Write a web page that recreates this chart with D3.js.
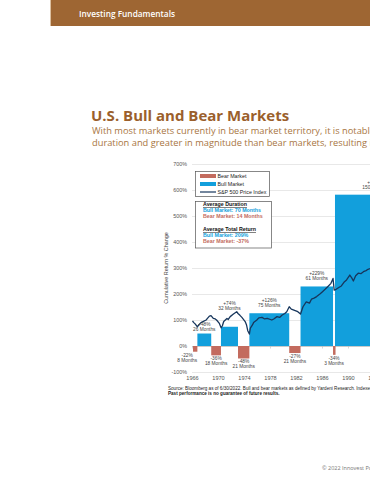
<!DOCTYPE html>
<html lang="en">
<head>
<meta charset="UTF-8">
<title>U.S. Bull and Bear Markets</title>
<script src="https://cdn.jsdelivr.net/npm/d3@7"></script>
<style>
  body { margin: 0; background: #fff; overflow: hidden; }
  svg { display: block; }
  .doc { font-family: "Open Sans", sans-serif; }
  .chart text { font-family: "Liberation Sans", Arial, sans-serif; }
</style>
</head>
<body>
<svg id="page" width="370" height="480"></svg>
<script>
// bull markets
const bullStart = [1966.75, 1970.38, 1974.75, 1982.62, 1987.92]
const bullEnd = [1968.88, 1973.0, 1980.88, 1987.62, 2000.2]
const bullReturn = [48, 74, 126, 229, 582]
const bullMonths = [26, 32, 75, 61, 150]

// bear markets
const bearStart = [1966.08, 1968.88, 1973.0, 1980.88, 1987.62]
const bearEnd = [1966.75, 1970.38, 1974.75, 1982.62, 1987.92]
const bearReturn = [-22, -36, -48, -27, -34]
const bearMonths = [8, 18, 21, 21, 3]

// S&P 500 line
const spxYear = [1966.0, 1966.2, 1966.4, 1966.75, 1967.0, 1967.3, 1967.6, 1968.1, 1968.3, 1968.6, 1968.85,
  1969.2, 1969.5, 1969.7, 1970.1, 1970.4, 1970.6, 1970.8, 1971.3, 1971.5, 1971.8, 1972.3, 1972.8, 1973.0,
  1973.3, 1973.6, 1974.1, 1974.3, 1974.5, 1974.75, 1974.9, 1975.2, 1975.4, 1975.9, 1976.2, 1976.7, 1977.1,
  1977.5, 1978.2, 1978.5, 1979.0, 1979.4, 1979.8, 1980.2, 1980.5, 1980.88, 1981.2, 1981.6, 1982.2, 1982.62,
  1983.0, 1983.5, 1984.0, 1984.3, 1984.7, 1985.1, 1985.6, 1986.0, 1986.4, 1986.8, 1987.3, 1987.62, 1987.8,
  1988.1, 1988.5, 1988.9, 1989.3, 1989.7, 1990.2, 1990.5, 1990.75, 1991.1, 1991.5, 1991.9, 1992.3, 1992.7,
  1993.0, 1993.5, 1994.0]
const spxValue = [96, 90, 85, 74, 82, 90, 94, 100, 106, 115, 117,
  106, 104, 100, 88, 70, 78, 94, 106, 102, 113, 123, 132, 125,
  118, 110, 94, 82, 59, 46, 69, 80, 90, 100, 108, 110, 104,
  106, 100, 104, 113, 110, 119, 125, 132, 151, 142, 138, 132, 123,
  151, 170, 165, 180, 184, 190, 200, 209, 218, 228, 241, 260, 215,
  218, 225, 231, 245, 254, 273, 262, 250, 270, 280, 278, 286, 290,
  295, 299, 302]

const yTicks = [-100, 0, 100, 200, 300, 400, 500, 600, 700]
const xTicks = [1966, 1970, 1974, 1978, 1982, 1986, 1990, 1994]

const blue = '#129fdc'
const red = '#c36b5e'
const navy = '#17365c'
const brown = '#9e6633'

svg = d3.select('#page')

// header band
svg.append('rect').attr('x', 50).attr('y', 0).attr('width', 320).attr('height', 26).attr('fill', brown)
svg.append('line').attr('x1', 50.5).attr('x2', 50.5).attr('y1', 0).attr('y2', 26)
  .attr('stroke', '#dcc0a0').attr('stroke-width', 1)
svg.append('text').attr('class', 'doc').attr('x', 79).attr('y', 17)
  .attr('fill', '#fff').attr('font-size', 8.3).attr('font-weight', 600)
  .text('Investing Fundamentals')

// title
svg.append('text').attr('class', 'doc').attr('x', 91).attr('y', 120.5)
  .attr('fill', '#9b5f2c').attr('font-size', 15).attr('font-weight', 700)
  .text('U.S. Bull and Bear Markets')

const sub = ['With most markets currently in bear market territory, it is notable that bull markets have been longer in',
  'duration and greater in magnitude than bear markets, resulting in positive long-term returns.']
sub.forEach((s, i) => {
  svg.append('text').attr('class', 'doc').attr('x', 92).attr('y', 133.5 + i * 12)
    .attr('fill', '#a87542').attr('font-size', 9.3)
    .text(s)
})

// chart
const x = d3.scaleLinear().domain([1966, 1994]).range([192.5, 374.5])
const y = d3.scaleLinear().domain([-100, 700]).range([372, 164])

g = svg.append('g').attr('class', 'chart')

g.selectAll('.grid').data(yTicks).join('line')
  .attr('x1', 192).attr('x2', 400)
  .attr('y1', d => y(d) + 0.5).attr('y2', d => y(d) + 0.5)
  .attr('stroke', d => d == 0 ? '#bdbdbd' : '#e2e2e2').attr('stroke-width', 0.8)

g.selectAll('.ytick').data(yTicks).join('text')
  .attr('x', 187).attr('y', d => y(d) + 2)
  .attr('text-anchor', 'end').attr('font-size', 5.4).attr('fill', '#555')
  .text(d => d + '%')

// year ticks on the zero line
g.selectAll('.xmark').data(xTicks).join('line')
  .attr('x1', d => x(d)).attr('x2', d => x(d))
  .attr('y1', y(0)).attr('y2', y(0) + 2.5)
  .attr('stroke', '#bdbdbd').attr('stroke-width', 0.6)

g.selectAll('.xtick').data(xTicks).join('text')
  .attr('x', d => x(d)).attr('y', 380)
  .attr('text-anchor', 'middle').attr('font-size', 5.6).attr('fill', '#555')
  .text(d => d)

g.append('text')
  .attr('transform', `translate(168,268) rotate(-90)`)
  .attr('text-anchor', 'middle').attr('font-size', 5.4).attr('fill', '#444')
  .text('Cumulative Return % Change')

// bars
g.selectAll('.bull').data(bullStart).join('rect')
  .attr('x', (d, i) => x(d))
  .attr('width', (d, i) => x(bullEnd[i]) - x(d))
  .attr('y', (d, i) => y(bullReturn[i]))
  .attr('height', (d, i) => y(0) - y(bullReturn[i]))
  .attr('fill', blue)

g.selectAll('.bear').data(bearStart).join('rect')
  .attr('x', (d, i) => x(d))
  .attr('width', (d, i) => Math.max(2.5, x(bearEnd[i]) - x(d)))
  .attr('y', y(0))
  .attr('height', (d, i) => y(bearReturn[i]) - y(0))
  .attr('fill', red)

// S&P 500 line
const line = d3.line().x(d => x(d[0])).y(d => y(d[1]))
g.append('path')
  .datum(spxYear.map((d, i) => [d, spxValue[i]]))
  .attr('d', line)
  .attr('fill', 'none').attr('stroke', navy).attr('stroke-width', 1.3)
  .attr('stroke-linejoin', 'round')

// bar labels
const bullLift = [3, 17, 6, 6, 6]
bullStart.forEach((d, i) => {
  let cx = (x(d) + x(bullEnd[i])) / 2
  let ly = y(bullReturn[i]) - bullLift[i]
  g.append('text').attr('x', cx).attr('y', ly - 5).attr('text-anchor', 'middle')
    .attr('font-size', 4.8).attr('fill', '#444').text('+' + bullReturn[i] + '%')
  g.append('text').attr('x', cx).attr('y', ly).attr('text-anchor', 'middle')
    .attr('font-size', 4.8).attr('fill', '#444').text(bullMonths[i] + ' Months')
})

const bearShift = [-8, 0, 0, 0, 0]
bearStart.forEach((d, i) => {
  let cx = (x(d) + x(bearEnd[i])) / 2 + bearShift[i]
  let ly = y(bearReturn[i])
  g.append('text').attr('x', cx).attr('y', ly + 5).attr('text-anchor', 'middle')
    .attr('font-size', 4.8).attr('fill', '#444').text(bearReturn[i] + '%')
  g.append('text').attr('x', cx).attr('y', ly + 10).attr('text-anchor', 'middle')
    .attr('font-size', 4.8).attr('fill', '#444').text(bearMonths[i] + ' Months')
})

// legend
const lg = g.append('g')
lg.append('rect').attr('x', 195.5).attr('y', 171.5).attr('width', 74).attr('height', 25)
  .attr('fill', '#fff').attr('stroke', '#555').attr('stroke-width', 0.7)
const legendItems = ['Bear Market', 'Bull Market', 'S&P 500 Price Index']
legendItems.forEach((t, i) => {
  let ly = 176 + i * 8
  if (i < 2) {
    lg.append('rect').attr('x', 200).attr('y', ly - 2).attr('width', 16).attr('height', 4)
      .attr('fill', i == 0 ? red : blue)
  } else {
    lg.append('line').attr('x1', 200).attr('x2', 216).attr('y1', ly).attr('y2', ly)
      .attr('stroke', navy).attr('stroke-width', 1.2)
  }
  lg.append('text').attr('x', 217.5).attr('y', ly + 1.9).attr('font-size', 5.3).attr('fill', '#222').text(t)
})

const sg = g.append('g')
sg.append('rect').attr('x', 195.5).attr('y', 201.5).attr('width', 76).attr('height', 46.5)
  .attr('fill', '#fff').attr('stroke', '#555').attr('stroke-width', 0.7)
const stats = [
  ['Average Duration', '#111', 206, true],
  ['Bull Market: 70 Months', blue, 212, false],
  ['Bear Market: 14 Months', red, 218, false],
  ['Average Total Return', '#111', 231, true],
  ['Bull Market: 209%', blue, 237, false],
  ['Bear Market: -37%', red, 243, false]
]
stats.forEach(s => {
  sg.append('text').attr('x', 203).attr('y', s[2]).attr('font-size', 5.3)
    .attr('font-weight', 700).attr('fill', s[1])
    .attr('text-decoration', s[3] ? 'underline' : null)
    .text(s[0])
})

// source
g.append('text').attr('x', 168).attr('y', 389.5).attr('font-size', 4.6).attr('fill', '#222')
  .text('Source: Bloomberg as of 6/30/2022. Bull and bear markets as defined by Yardeni Research. Indexes are unmanaged and cannot be invested into directly.')
g.append('text').attr('x', 168).attr('y', 395).attr('font-size', 4.6).attr('font-weight', 700).attr('fill', '#222')
  .text('Past performance is no guarantee of future results.')

svg.append('text').attr('class', 'doc').attr('x', 322).attr('y', 470)
  .attr('font-size', 5.5).attr('fill', '#777')
  .text('\u00a9 2022 Innovest Portfolio Solutions')
</script>
</body>
</html>
